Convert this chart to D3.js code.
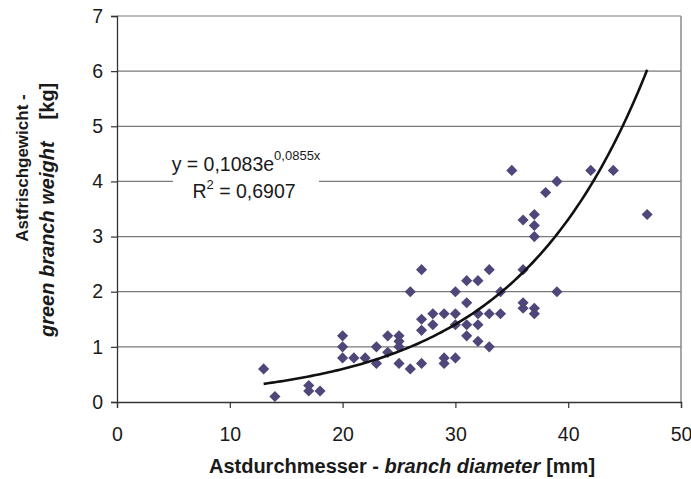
<!DOCTYPE html>
<html lang="de">
<head>
  <meta charset="UTF-8">
  <title>Astfrischgewicht - Astdurchmesser</title>
  <script src="https://d3js.org/d3.v7.min.js"></script>
  <style>
    body { margin: 0; background: #fff; }
    svg text { font-family: "Liberation Sans", Arial, sans-serif; fill: #1a1a1a; }
    .tick text { font-size: 19.5px; }
    .grid line { stroke: #7a7a7a; stroke-width: 1.2px; }
  </style>
</head>
<body>
  <div id="chart"></div>
  <script>
    // Astdurchmesser [mm]
    const diameter = [13, 14, 17, 17, 18, 20, 20, 20, 21, 22, 23, 23, 24, 24, 25, 25, 25, 25,
      26, 26, 27, 27, 27, 27, 28, 28, 29, 29, 29, 30, 30, 30, 30, 31, 31, 31, 31,
      32, 32, 32, 32, 33, 33, 33, 34, 34, 35, 36, 36, 36, 36, 37, 37, 37, 37, 37,
      38, 39, 39, 42, 44, 47];
    // Astfrischgewicht [kg]
    const weight = [0.6, 0.1, 0.3, 0.2, 0.2, 1.2, 1.0, 0.8, 0.8, 0.8, 1.0, 0.7, 1.2, 0.9, 1.2, 1.1, 1.0, 0.7,
      2.0, 0.6, 2.4, 1.5, 1.3, 0.7, 1.6, 1.4, 1.6, 0.8, 0.7, 2.0, 1.6, 1.4, 0.8, 2.2, 1.8, 1.4, 1.2,
      2.2, 1.6, 1.4, 1.1, 2.4, 1.6, 1.0, 2.0, 1.6, 4.2, 3.3, 2.4, 1.8, 1.7, 3.4, 3.2, 3.0, 1.7, 1.6,
      3.8, 4.0, 2.0, 4.2, 4.2, 3.4];

    // Trendlinie (exponentiell), wie im Diagramm angegeben
    const trendA = 0.1083, trendB = 0.0855;
    const trendRange = [13, 47];

    const xTicks = [0, 10, 20, 30, 40, 50];
    const yTicks = [0, 1, 2, 3, 4, 5, 6, 7];

    const width = 691, height = 479;
    const margin = {top: 16, right: 10, bottom: 77, left: 117};

    const svg = d3.select("#chart").append("svg")
      .attr("width", width)
      .attr("height", height);

    const x = d3.scaleLinear().domain([0, 50]).range([margin.left, width - margin.right]);
    const y = d3.scaleLinear().domain([0, 7]).range([height - margin.bottom, margin.top]);

    // Gitterlinien
    svg.append("g")
      .attr("class", "grid")
      .selectAll("line")
      .data(yTicks.filter(d => d > 0))
      .join("line")
      .attr("x1", x(0)).attr("x2", x(50))
      .attr("y1", d => y(d)).attr("y2", d => y(d));

    // rechter Rahmen
    svg.append("line")
      .attr("x1", x(50)).attr("x2", x(50))
      .attr("y1", y(0)).attr("y2", y(7))
      .attr("stroke", "#8a8a8a").attr("stroke-width", 1.5);

    // Achsen
    const xAxis = svg.append("g")
      .attr("transform", `translate(0,${y(0)})`)
      .call(d3.axisBottom(x).tickValues(xTicks).tickFormat(d3.format("d")).tickSize(6).tickPadding(19));
    const yAxis = svg.append("g")
      .attr("transform", `translate(${x(0)},0)`)
      .call(d3.axisLeft(y).tickValues(yTicks).tickFormat(d3.format("d")).tickSize(6).tickPadding(8));
    [xAxis, yAxis].forEach(g => {
      g.select(".domain").attr("stroke", "#333").attr("stroke-width", 1.3);
      g.selectAll(".tick line").attr("stroke", "#333").attr("stroke-width", 1.2);
      g.selectAll(".tick text").attr("fill", "#1a1a1a");
    });

    // Punkte
    const points = diameter.map((d, i) => ({d, w: weight[i]}));
    svg.append("g")
      .selectAll("path")
      .data(points)
      .join("path")
      .attr("d", d3.symbol().type(d3.symbolSquare).size(62))
      .attr("transform", p => `translate(${x(p.d)},${y(p.w)}) rotate(45)`)
      .attr("fill", "#4f4779");

    // Trendlinie
    const trend = d3.range(trendRange[0], trendRange[1] + 0.001, 0.25)
      .map(v => [v, trendA * Math.exp(trendB * v)]);
    svg.append("path")
      .datum(trend)
      .attr("fill", "none")
      .attr("stroke", "#111")
      .attr("stroke-width", 2.6)
      .attr("d", d3.line().x(d => x(d[0])).y(d => y(d[1])).curve(d3.curveMonotoneX));

    // Gleichung mit weissem Hintergrund
    svg.append("rect")
      .attr("x", 173).attr("y", 145).attr("width", 146).attr("height", 58)
      .attr("fill", "#fff");
    const eq = svg.append("text")
      .attr("x", 246).attr("y", 171)
      .attr("text-anchor", "middle")
      .style("font-size", "19.5px");
    eq.append("tspan").text("y = 0,1083e");
    eq.append("tspan").attr("dy", -11).style("font-size", "13px").text("0,0855x");
    const r2 = svg.append("text")
      .attr("x", 244).attr("y", 198)
      .attr("text-anchor", "middle")
      .style("font-size", "19.5px");
    r2.append("tspan").text("R");
    r2.append("tspan").attr("dy", -9).style("font-size", "13px").text("2");
    r2.append("tspan").attr("dy", 9).text(" = 0,6907");

    // Achsentitel
    const xt = svg.append("text")
      .attr("x", 402).attr("y", 473)
      .attr("text-anchor", "middle")
      .style("font-size", "20px")
      .style("font-weight", "bold");
    xt.append("tspan").text("Astdurchmesser - ");
    xt.append("tspan").style("font-style", "italic").text("branch diameter");
    xt.append("tspan").attr("dx", 6).text("[mm]");

    svg.append("text")
      .attr("transform", "translate(28,168) rotate(-90)")
      .attr("text-anchor", "middle")
      .style("font-size", "17px")
      .style("font-weight", "bold")
      .text("Astfrischgewicht -");
    const yt = svg.append("text")
      .attr("transform", "translate(54,337) rotate(-90)")
      .style("font-size", "20px")
      .style("font-weight", "bold");
    yt.append("tspan").style("font-style", "italic").text("green branch weight");
    yt.append("tspan").attr("dx", 22).text("[kg]");
  </script>
</body>
</html>
